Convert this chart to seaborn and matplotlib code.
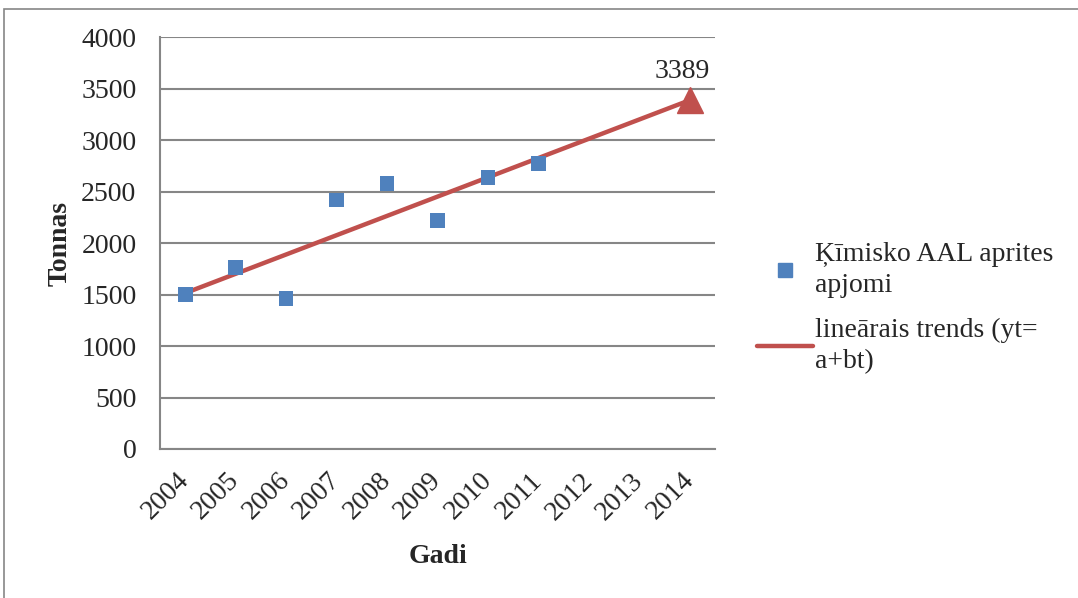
import numpy as np
import pandas as pd
import seaborn as sns
import matplotlib.pyplot as plt
from matplotlib.lines import Line2D
from matplotlib.patches import Rectangle

sns.set_style('white')
plt.rcParams['font.family'] = ['Liberation Serif', 'DejaVu Serif']

# dati
years = [2004, 2005, 2006, 2007, 2008, 2009, 2010, 2011, 2012, 2013, 2014]
obs_years = [2004, 2005, 2006, 2007, 2008, 2009, 2010, 2011]
obs_values = [1500, 1766, 1461, 2420, 2582, 2219, 2637, 2773]
trend_years = [2004, 2014]
trend_values = [1515, 3389]
forecast_year = 2014
forecast_value = 3389

blue = '#4F81BD'
red = '#C0504D'
grey = '#868686'
fs = 20

df_obs = pd.DataFrame({'x': [y - years[0] for y in obs_years], 'y': obs_values})
df_trend = pd.DataFrame({'x': [y - years[0] for y in trend_years], 'y': trend_values})

fig = plt.figure(figsize=(10.78, 5.98), dpi=100)
ax = fig.add_axes([160/1078, 1-449/598, 555/1078, (449-37.3)/598])

# ramis ap attēlu
fig.patches.append(Rectangle((3.5/1078, -0.1), 1.2, 1-9/598+0.1, transform=fig.transFigure,
                             fill=False, edgecolor=grey, lw=1.2))

sns.lineplot(data=df_trend, x='x', y='y', color=red, lw=3.2, ax=ax, zorder=3)
sns.scatterplot(data=df_obs, x='x', y='y', marker='s', s=110, color=blue,
                edgecolor='none', ax=ax, zorder=4)
ax.plot([forecast_year - years[0]], [forecast_value], marker='^', ms=19,
        color=red, zorder=5, clip_on=False)
ax.text(forecast_year - years[0] - 0.15, forecast_value + 160, str(forecast_value),
        ha='center', va='bottom', fontsize=fs)

ax.set_xlim(-0.5, len(years) - 0.5)
ax.set_ylim(0, 4000)
ax.set_yticks(np.arange(0, 4001, 500))
ax.set_xticks(np.arange(-0.5, len(years), 1))
ax.set_xticklabels([])
ax.set_xticks(np.arange(len(years)), minor=True)
ax.set_xticklabels([str(y) for y in years], minor=True, rotation=45,
                   ha='right', va='center', rotation_mode='anchor', fontsize=fs)
ax.tick_params(axis='x', which='minor', length=0, pad=20)
ax.tick_params(axis='x', which='major', length=6, width=1.5, color=grey, direction='out')
ax.tick_params(axis='y', length=6, width=1.5, color=grey, direction='out', labelsize=fs, pad=11)
ax.grid(axis='y', color=grey, lw=1.5)
ax.set_axisbelow(True)
for s in ['top', 'right']:
    ax.spines[s].set_visible(False)
for s in ['left', 'bottom']:
    ax.spines[s].set_color(grey)
    ax.spines[s].set_linewidth(1.5)

ax.set_xlabel('Gadi', fontsize=fs, fontweight='bold', labelpad=14)
ax.set_ylabel('Tonnas', fontsize=fs, fontweight='bold', labelpad=6)

handles = [Line2D([], [], ls='none', marker='s', ms=10, color=blue),
           Line2D([], [], color=red, lw=3.2)]
leg = fig.legend(handles, ['Ķīmisko AAL aprites\napjomi', 'lineārais trends (yt=\na+bt)'],
                 loc='center left', bbox_to_anchor=(732/1078, 1-308/598), frameon=False,
                 fontsize=fs, handlelength=2.0, handletextpad=0.1, labelspacing=0.7)
for t in leg.get_texts():
    t.set_linespacing(1.35)

fig.savefig('out.png', dpi=100)
